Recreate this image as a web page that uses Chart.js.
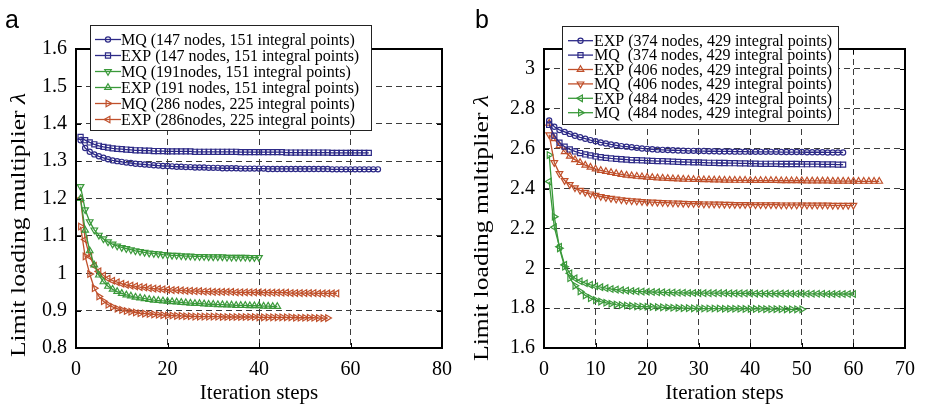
<!DOCTYPE html>
<html>
<head>
<meta charset="utf-8">
<script src="https://cdn.jsdelivr.net/npm/chart.js@4.4.1/dist/chart.umd.min.js"></script>
<style>
  html, body { margin: 0; padding: 0; background: #fff; }
  #wrap { position: relative; width: 925px; height: 407px; }
  canvas { position: absolute; top: 0; }
  #chartA { left: 0; }
  #chartB { left: 462px; }
</style>
</head>
<body>
<div id="wrap">
  <canvas id="chartA" width="462" height="407" style="width:462px;height:407px"></canvas>
  <canvas id="chartB" width="463" height="407" style="width:463px;height:407px"></canvas>
</div>
<script>
// ---- panel a: limit load multiplier per iteration step ----
const xTicksA = [0, 20, 40, 60, 80];
const yTicksA = [0.8, 0.9, 1.0, 1.1, 1.2, 1.3, 1.4, 1.5, 1.6];
const labelsA = [
  'MQ (147 nodes, 151 integral points)',
  'EXP (147 nodes, 151 integral points)',
  'MQ (191nodes, 151 integral points)',
  'EXP (191 nodes, 151 integral points)',
  'MQ (286 nodes, 225 integral points)',
  'EXP (286nodes, 225 integral points)'
];
const mq147 = [1.356,1.335,1.325,1.318,1.313,1.309,1.305,1.302,1.300,1.298,
  1.296,1.295,1.293,1.292,1.291,1.290,1.289,1.288,1.287,1.287,
  1.286,1.285,1.285,1.284,1.284,1.283,1.283,1.283,1.282,1.282,
  1.282,1.281,1.281,1.281,1.281,1.280,1.280,1.280,1.280,1.280,
  1.280,1.279,1.279,1.279,1.279,1.279,1.279,1.279,1.279,1.279,
  1.279,1.279,1.279,1.279,1.279,1.278,1.278,1.278,1.278,1.278,
  1.278,1.278,1.278,1.278,1.278,1.278];
const exp147 = [1.365,1.356,1.350,1.345,1.341,1.338,1.336,1.334,1.333,1.332,
  1.331,1.330,1.329,1.329,1.328,1.328,1.327,1.327,1.327,1.326,
  1.326,1.326,1.326,1.326,1.326,1.325,1.325,1.325,1.325,1.325,
  1.325,1.325,1.325,1.325,1.325,1.324,1.324,1.324,1.324,1.324,
  1.324,1.324,1.324,1.324,1.324,1.323,1.323,1.323,1.323,1.323,
  1.323,1.323,1.323,1.323,1.323,1.322,1.322,1.322,1.322,1.322,
  1.322,1.322,1.322,1.322];
const mq191 = [1.232,1.170,1.138,1.116,1.102,1.092,1.084,1.078,1.073,1.069,
  1.066,1.063,1.060,1.058,1.056,1.054,1.053,1.052,1.050,1.049,
  1.048,1.048,1.047,1.046,1.046,1.045,1.045,1.045,1.044,1.044,
  1.044,1.044,1.043,1.043,1.043,1.043,1.043,1.042,1.042,1.042];
const exp191 = [1.200,1.115,1.060,1.022,0.995,0.977,0.965,0.957,0.951,0.946,
  0.942,0.939,0.936,0.934,0.932,0.930,0.928,0.927,0.926,0.925,
  0.924,0.923,0.922,0.921,0.920,0.919,0.919,0.918,0.917,0.917,
  0.916,0.916,0.915,0.915,0.914,0.914,0.914,0.913,0.913,0.913,
  0.912,0.912,0.911,0.911];
const mq286 = [1.125,1.045,0.998,0.960,0.938,0.925,0.916,0.910,0.905,0.902,
  0.899,0.897,0.895,0.893,0.892,0.891,0.890,0.889,0.888,0.887,
  0.887,0.886,0.886,0.885,0.885,0.884,0.884,0.884,0.884,0.884,
  0.884,0.883,0.883,0.883,0.883,0.883,0.883,0.883,0.883,0.882,
  0.882,0.882,0.882,0.882,0.882,0.882,0.882,0.881,0.881,0.881,
  0.881,0.881,0.880,0.880,0.880];
const exp286 = [1.200,1.090,1.045,1.020,1.005,0.994,0.986,0.980,0.976,0.972,
  0.969,0.967,0.965,0.963,0.962,0.960,0.959,0.958,0.957,0.956,
  0.955,0.955,0.954,0.953,0.953,0.952,0.952,0.951,0.951,0.950,
  0.950,0.950,0.950,0.950,0.949,0.949,0.949,0.949,0.949,0.949,
  0.948,0.948,0.948,0.948,0.948,0.948,0.947,0.947,0.947,0.947,
  0.947,0.947,0.946,0.946,0.946,0.946,0.946];

// ---- panel b ----
const xTicksB = [0, 10, 20, 30, 40, 50, 60, 70];
const yTicksB = [1.6, 1.8, 2.0, 2.2, 2.4, 2.6, 2.8, 3.0];
const labelsB = [
  'EXP (374 nodes, 429 integral points)',
  'MQ  (374 nodes, 429 integral points)',
  'EXP (406 nodes, 429 integral points)',
  'MQ  (406 nodes, 429 integral points)',
  'EXP (484 nodes, 429 integral points)',
  'MQ  (484 nodes, 429 integral points)'
];
const exp374 = [2.741,2.710,2.694,2.684,2.674,2.665,2.657,2.650,2.643,2.637,
  2.631,2.626,2.621,2.617,2.613,2.610,2.607,2.604,2.601,2.599,
  2.597,2.595,2.594,2.593,2.592,2.591,2.590,2.589,2.589,2.588,
  2.588,2.587,2.587,2.586,2.586,2.586,2.585,2.585,2.585,2.584,
  2.584,2.584,2.584,2.584,2.584,2.583,2.583,2.583,2.583,2.583,
  2.582,2.582,2.582,2.582,2.581,2.581,2.581,2.581];
const mq374 = [2.720,2.665,2.630,2.610,2.596,2.586,2.578,2.571,2.566,2.561,
  2.557,2.554,2.551,2.549,2.547,2.545,2.543,2.542,2.541,2.540,
  2.539,2.538,2.537,2.536,2.535,2.534,2.533,2.532,2.531,2.531,
  2.530,2.529,2.529,2.528,2.528,2.527,2.527,2.526,2.526,2.525,
  2.525,2.524,2.524,2.524,2.524,2.523,2.523,2.523,2.523,2.522,
  2.522,2.522,2.522,2.521,2.521,2.521,2.520,2.520];
const exp406 = [2.728,2.650,2.615,2.585,2.562,2.545,2.530,2.517,2.507,2.498,
  2.491,2.485,2.480,2.475,2.471,2.467,2.464,2.461,2.459,2.457,
  2.455,2.453,2.452,2.450,2.449,2.448,2.447,2.446,2.445,2.445,
  2.444,2.444,2.443,2.443,2.442,2.442,2.441,2.441,2.441,2.440,
  2.440,2.440,2.440,2.440,2.440,2.439,2.439,2.439,2.439,2.439,
  2.438,2.438,2.438,2.438,2.438,2.437,2.437,2.437,2.437,2.437,
  2.436,2.436,2.436,2.436,2.436];
const mq406 = [2.670,2.530,2.475,2.440,2.420,2.404,2.391,2.381,2.373,2.366,
  2.360,2.355,2.351,2.347,2.344,2.341,2.339,2.337,2.335,2.333,
  2.332,2.331,2.330,2.329,2.328,2.327,2.326,2.325,2.325,2.324,
  2.323,2.323,2.322,2.322,2.321,2.321,2.320,2.320,2.320,2.319,
  2.319,2.319,2.319,2.319,2.319,2.318,2.318,2.318,2.318,2.318,
  2.317,2.317,2.317,2.317,2.317,2.316,2.316,2.316,2.316,2.316];
const exp484 = [2.435,2.206,2.108,2.017,1.975,1.950,1.935,1.925,1.917,1.910,
  1.905,1.900,1.896,1.893,1.890,1.888,1.886,1.884,1.883,1.882,
  1.881,1.880,1.879,1.878,1.878,1.877,1.877,1.876,1.876,1.875,
  1.875,1.875,1.875,1.875,1.875,1.874,1.874,1.874,1.874,1.874,
  1.873,1.873,1.873,1.873,1.873,1.873,1.873,1.872,1.872,1.872,
  1.872,1.872,1.872,1.872,1.871,1.871,1.871,1.871,1.871,1.871];
const mq484 = [2.568,2.259,2.100,2.008,1.950,1.912,1.884,1.864,1.850,1.840,
  1.833,1.827,1.822,1.818,1.815,1.813,1.811,1.809,1.808,1.807,
  1.806,1.805,1.804,1.803,1.802,1.801,1.800,1.800,1.799,1.799,
  1.798,1.798,1.798,1.798,1.797,1.797,1.797,1.797,1.796,1.796,
  1.796,1.796,1.795,1.795,1.795,1.795,1.794,1.794,1.794,1.794];

const SERIF = "'Liberation Serif', 'Times New Roman', serif";
const NAVY = '#2d2a87';
const GREEN = '#3a993a';
const ORANGE = '#c0502b';

// iteration steps start at 1
const toPoints = vals => vals.map((v, i) => ({ x: i + 1, y: v }));

const series = (label, vals, color, style, rot, radius) => ({
  label,
  data: toPoints(vals),
  borderColor: color,
  backgroundColor: 'transparent',
  borderWidth: 1.3,
  pointStyle: style,
  pointRotation: rot,
  pointRadius: radius,
  pointBorderWidth: 1.2,
  pointBorderColor: color,
  pointBackgroundColor: 'transparent',
  tension: 0,
  fill: false
});

// frame, inner ticks, boxed legend, y title and panel letter
const decor = cfg => ({
  id: 'decor',
  afterDatasetsDraw(chart) {
    const { ctx, chartArea: a, scales: { x, y } } = chart;
    ctx.save();
    ctx.strokeStyle = '#000';
    ctx.lineWidth = 1;
    ctx.beginPath();
    cfg.xTicks.forEach(v => {
      const px = Math.round(x.getPixelForValue(v)) + 0.5;
      ctx.moveTo(px, a.bottom); ctx.lineTo(px, a.bottom - 5);
      ctx.moveTo(px, a.top); ctx.lineTo(px, a.top + 5);
    });
    cfg.yTicks.forEach(v => {
      const py = Math.round(y.getPixelForValue(v)) + 0.5;
      ctx.moveTo(a.left, py); ctx.lineTo(a.left + 5, py);
      ctx.moveTo(a.right, py); ctx.lineTo(a.right - 5, py);
    });
    ctx.stroke();
    ctx.lineWidth = 2;
    ctx.strokeRect(a.left, a.top, a.right - a.left, a.bottom - a.top);

    // legend box
    const L = cfg.legend;
    ctx.fillStyle = '#fff';
    ctx.fillRect(L.x, L.y, L.w, L.h);
    ctx.lineWidth = 1;
    ctx.strokeStyle = '#222';
    ctx.strokeRect(L.x + 0.5, L.y + 0.5, L.w, L.h);
    ctx.font = `16px ${SERIF}`;
    ctx.textBaseline = 'middle';
    ctx.textAlign = 'left';
    chart.data.datasets.forEach((ds, i) => {
      const ry = L.row0 + i * L.rowH;
      ctx.strokeStyle = ds.borderColor;
      ctx.lineWidth = 1.3;
      ctx.beginPath();
      ctx.moveTo(L.line0, ry); ctx.lineTo(L.line1, ry);
      ctx.stroke();
      ctx.lineWidth = 1.2;
      ctx.fillStyle = 'transparent';
      Chart.helpers.drawPoint(ctx, {
        pointStyle: ds.pointStyle, rotation: ds.pointRotation,
        radius: ds.pointRadius, borderWidth: 1.2
      }, (L.line0 + L.line1) / 2, ry);
      ctx.fillStyle = '#000';
      ctx.fillText(ds.label, L.textX, ry + 1);
    });
    ctx.restore();
  },
  afterDraw(chart) {
    const { ctx } = chart;
    ctx.save();
    // rotated axis title with italic lambda
    const main = 'Limit loading multiplier ';
    const sym = '\u03bb';
    ctx.font = `21px ${SERIF}`;
    const w1 = ctx.measureText(main).width;
    ctx.font = `italic 21px ${SERIF}`;
    const w2 = ctx.measureText(sym).width;
    ctx.translate(cfg.title.x, cfg.title.y);
    ctx.rotate(-Math.PI / 2);
    ctx.scale(cfg.title.len / (w1 + w2), 1);
    ctx.fillStyle = '#000';
    ctx.textBaseline = 'alphabetic';
    ctx.textAlign = 'left';
    const x0 = -(w1 + w2) / 2;
    ctx.font = `21px ${SERIF}`;
    ctx.fillText(main, x0, 0);
    ctx.font = `italic 21px ${SERIF}`;
    ctx.fillText(sym, x0 + w1, 0);
    ctx.restore();

    ctx.save();
    ctx.font = "25px 'Liberation Sans', Arial, sans-serif";
    ctx.fillStyle = '#000';
    ctx.textBaseline = 'alphabetic';
    ctx.fillText(cfg.letter.text, cfg.letter.x, cfg.letter.y);
    ctx.restore();
  }
});

const fmt = v => String(+Number(v).toFixed(1));

const makeChart = (id, datasets, xr, yr, xTicks, yTicks, geo, cfg) => new Chart(document.getElementById(id), {
  type: 'line',
  data: { datasets },
  options: {
    responsive: false,
    animation: false,
    devicePixelRatio: 1,
    layout: { padding: { top: 49, right: geo.right, bottom: 0, left: 0 } },
    plugins: { legend: { display: false }, tooltip: { enabled: false } },
    scales: {
      x: {
        type: 'linear', min: xr[0], max: xr[1],
        afterBuildTicks: s => { s.ticks = xTicks.map(v => ({ value: v })); },
        afterFit: s => { s.height = 59; },
        grid: { color: '#3c3c3c', lineWidth: 1, drawTicks: false },
        border: { display: false, dash: [6, 4] },
        ticks: { font: { family: SERIF, size: 20 }, color: '#000', padding: 10, maxRotation: 0, autoSkip: false },
        title: { display: true, text: 'Iteration steps', font: { family: SERIF, size: 21 }, color: '#000', padding: { top: 0, bottom: 1 } }
      },
      y: {
        type: 'linear', min: yr[0], max: yr[1],
        afterBuildTicks: s => { s.ticks = yTicks.map(v => ({ value: v })); },
        afterFit: s => { s.width = geo.yWidth; },
        grid: { color: '#3c3c3c', lineWidth: 1, drawTicks: false },
        border: { display: false, dash: [6, 4] },
        ticks: { font: { family: SERIF, size: 20 }, color: '#000', padding: 9, autoSkip: false, callback: fmt }
      }
    }
  },
  plugins: [decor(cfg)]
});

makeChart('chartA', [
  series(labelsA[0], mq147, NAVY, 'circle', 0, 2.6),
  series(labelsA[1], exp147, NAVY, 'rect', 0, 3.6),
  series(labelsA[2], mq191, GREEN, 'triangle', 180, 3.8),
  series(labelsA[3], exp191, GREEN, 'triangle', 0, 3.8),
  series(labelsA[4], mq286, ORANGE, 'triangle', 90, 3.8),
  series(labelsA[5], exp286, ORANGE, 'triangle', 270, 3.8)
], [0, 80], [0.8, 1.6], xTicksA, yTicksA, { right: 16, yWidth: 76 }, {
  xTicks: xTicksA, yTicks: yTicksA,
  legend: { x: 90, y: 25, w: 281, h: 105, row0: 39.5, rowH: 16, line0: 95, line1: 121, textX: 121 },
  title: { x: 25, y: 225, len: 264 },
  letter: { text: 'a', x: 5, y: 28 }
});

makeChart('chartB', [
  series(labelsB[0], exp374, NAVY, 'circle', 0, 2.6),
  series(labelsB[1], mq374, NAVY, 'rect', 0, 3.6),
  series(labelsB[2], exp406, ORANGE, 'triangle', 0, 3.8),
  series(labelsB[3], mq406, ORANGE, 'triangle', 180, 3.8),
  series(labelsB[4], exp484, GREEN, 'triangle', 270, 3.8),
  series(labelsB[5], mq484, GREEN, 'triangle', 90, 3.8)
], [0, 70], [1.6, 3.1], xTicksB, yTicksB, { right: 9, yWidth: 82 }, {
  xTicks: xTicksB, yTicks: yTicksB,
  legend: { x: 100, y: 26, w: 276, h: 98, row0: 40.7, rowH: 14.4, line0: 106, line1: 131, textX: 132 },
  title: { x: 26, y: 228, len: 266 },
  letter: { text: 'b', x: 13, y: 28 }
});
</script>
</body>
</html>
